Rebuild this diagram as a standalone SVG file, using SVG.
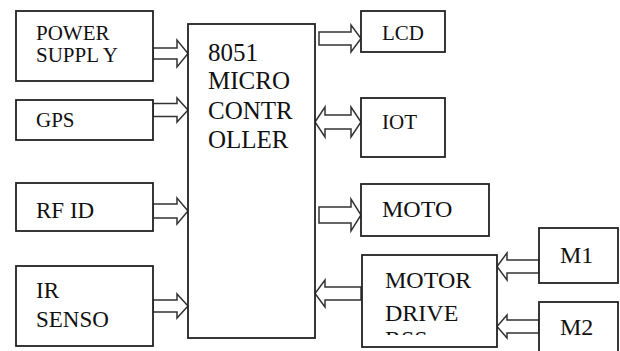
<svg xmlns="http://www.w3.org/2000/svg" width="620" height="351" viewBox="0 0 620 351">
<style>
.box{fill:#fff;stroke:#222;stroke-width:1.8}
.arr{fill:#fff;stroke:#333;stroke-width:1.5;stroke-linejoin:miter}
.t{fill:#111;font-family:'Liberation Serif',serif}
</style>
<defs>
<clipPath id="mdclip"><rect x="362" y="256" width="134" height="79"/></clipPath>
</defs>
<rect width="620" height="351" fill="#fff"/>
<g id="connectors">
<polygon class="arr" points="153,48 177,48 177,40 188,53.5 177,67 177,59 153,59"/>
<polygon class="arr" points="153,103.5 177,103.5 177,98 188,110 177,122 177,116.5 153,116.5"/>
<polygon class="arr" points="153,204 177,204 177,198 188,211 177,224 177,218 153,218"/>
<polygon class="arr" points="153,300 177,300 177,294 188,306 177,318 177,312 153,312"/>
<polygon class="arr" points="319,32 351,32 351,25 361,38.5 351,52 351,45 319,45"/>
<polygon class="arr" points="315,122 325,107 325,115 351,115 351,107 361,122 351,137 351,129 325,129 325,137"/>
<polygon class="arr" points="319,207 351,207 351,199 361,215 351,231 351,223 319,223"/>
<polygon class="arr" points="361,287 325,287 325,280 315,293.5 325,307 325,300 361,300"/>
<polygon class="arr" points="539,260 507,260 507,253 497,266.5 507,280 507,273 539,273"/>
<polygon class="arr" points="539,320 507,320 507,315 497,326.5 507,338 507,333 539,333"/>
</g>
<g id="power-supply">
<rect class="box" x="16" y="11" width="137" height="70"/>
<text class="t" x="36" y="40" font-size="21">POWER</text>
<text class="t" x="36" y="62" font-size="21">SUPPL Y</text>
</g>
<g id="gps">
<rect class="box" x="16" y="100" width="137" height="40"/>
<text class="t" x="36" y="127" font-size="21">GPS</text>
</g>
<g id="rfid">
<rect class="box" x="16" y="183" width="137" height="48"/>
<text class="t" x="36" y="218" font-size="23">RF ID</text>
</g>
<g id="ir-sensor">
<rect class="box" x="16" y="266" width="137" height="80"/>
<text class="t" x="36" y="298" font-size="23">IR</text>
<text class="t" x="36" y="327" font-size="23">SENSO</text>
</g>
<g id="microcontroller">
<rect class="box" x="188" y="24" width="127" height="314"/>
<text class="t" x="208" y="61" font-size="25">8051</text>
<text class="t" x="208" y="89" font-size="25">MICRO</text>
<text class="t" x="208" y="119" font-size="25">CONTR</text>
<text class="t" x="208" y="148" font-size="25">OLLER</text>
</g>
<g id="lcd">
<rect class="box" x="361" y="11" width="84" height="41"/>
<text class="t" x="382" y="40" font-size="21">LCD</text>
</g>
<g id="iot">
<rect class="box" x="361" y="98" width="84" height="59"/>
<text class="t" x="382" y="129" font-size="21">IOT</text>
</g>
<g id="moto">
<rect class="box" x="361" y="184" width="128" height="52"/>
<text class="t" x="382" y="217" font-size="24">MOTO</text>
</g>
<g id="motor-drive">
<rect class="box" x="362" y="255" width="135" height="92"/>
<g clip-path="url(#mdclip)">
<text class="t" x="385" y="288" font-size="24">MOTOR</text>
<text class="t" x="385" y="321" font-size="24">DRIVE</text>
<text class="t" x="385" y="347" font-size="24">RSS</text>
</g>
</g>
<g id="m1">
<rect class="box" x="539" y="228" width="79" height="55"/>
<text class="t" x="560" y="263" font-size="24">M1</text>
</g>
<g id="m2">
<rect class="box" x="539" y="302" width="79" height="60"/>
<text class="t" x="560" y="335" font-size="24">M2</text>
</g>
</svg>
